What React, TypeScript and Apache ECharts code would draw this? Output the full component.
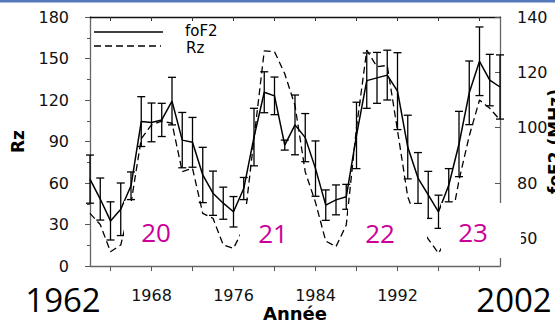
import React, { useEffect, useRef } from "react";
import * as echarts from "echarts";

// Years (annual means)
const years = [
  1962, 1963, 1964, 1965, 1966, 1967, 1968, 1969, 1970, 1971,
  1972, 1973, 1974, 1975, 1976, 1977, 1978, 1979, 1980, 1981,
  1982, 1983, 1984, 1985, 1986, 1987, 1988, 1989, 1990, 1991,
  1992, 1993, 1994, 1995, 1996, 1997, 1998, 1999, 2000, 2001, 2002,
];

// Sunspot number Rz (left axis, dashed)
const rz = [
  38, 30, 10.3, 15.2, 45.3, 92, 102, 104.8, 103.2, 68.2,
  70.6, 38.1, 34.5, 15.2, 12.8, 27.5, 92, 155.5, 155, 139,
  116, 68, 46, 18, 14, 29.6, 100, 156, 144, 145,
  98, 50, 30, 19.5, 9.2, 22, 62, 94, 120, 114, 105.6,
];

// foF2 (right axis, solid) and its error half-width
const foF2 = [
  81.4, 74.2, 66.3, 70.5, 79.0, 102.2, 101.9, 102.8, 109.6, 95.5,
  94.7, 82.9, 76.3, 72.7, 69.6, 78.0, 96.6, 112.8, 111.5, 93.7,
  101.0, 96.4, 85.2, 72.0, 73.9, 75.0, 97.2, 117.0, 118.0, 119.0,
  113.2, 93.0, 81.8, 75.7, 69.6, 79.2, 94.1, 112.6, 124.0, 117.2, 114.7,
];
const foF2Err = [
  8.7, 7.6, 6.9, 9.5, 5.0, 9.0, 7.0, 6.0, 8.6, 10.0,
  9.0, 10.0, 8.0, 5.8, 5.5, 4.0, 10.4, 7.4, 6.8, 1.8,
  10.8, 8.7, 10.0, 5.5, 5.4, 4.5, 12.0, 10.0, 9.2, 9.0,
  13.9, 11.5, 9.2, 8.5, 6.0, 6.0, 11.8, 11.5, 12.4, 9.3, 11.6,
];

// Axis ticks / labels
const xTickValues = [1964, 1968, 1972, 1976, 1980, 1984, 1988, 1992, 1996, 2000];
const xLabelValues = [1968, 1976, 1984, 1992];
const rightTickValues = [60, 80, 100, 120, 140];

// Overlay texts
const cycleLabels = ["20", "21", "22", "23"];
const startYearLabel = "1962";
const endYearLabel = "2002";

const axisFont = "DejaVu Sans";
const overlayFont = "Open Sans";
const magenta = "#cc0099";

export default function App() {
  const ref = useRef<HTMLDivElement>(null);

  useEffect(() => {
    const chart = echarts.init(ref.current as HTMLDivElement, null, { renderer: "svg" });

    const renderErr = (params: any, api: any) => {
      const x = api.value(0);
      const lo = api.value(1);
      const hi = api.value(2);
      const p1 = api.coord([x, lo]);
      const p2 = api.coord([x, hi]);
      const w = 4;
      const style = { stroke: "#000", lineWidth: 1.3 };
      return {
        type: "group",
        children: [
          { type: "line", shape: { x1: p1[0], y1: p1[1], x2: p2[0], y2: p2[1] }, style },
          { type: "line", shape: { x1: p1[0] - w, y1: p1[1], x2: p1[0] + w, y2: p1[1] }, style },
          { type: "line", shape: { x1: p2[0] - w, y1: p2[1], x2: p2[0] + w, y2: p2[1] }, style },
        ],
      };
    };

    const cyclePos = [
      [156, 232],
      [273, 233],
      [380, 233],
      [473, 232],
    ];
    const boxes = [
      [124, 201, 71, 61],
      [240, 204, 60, 58],
      [348, 204, 79, 58],
      [441, 203, 80, 55],
    ];

    const graphic: any[] = [
      { type: "rect", shape: { x: 0, y: 0, width: 555, height: 2.5 }, style: { fill: "#5577bb" }, z: 100 },
      { type: "line", shape: { x1: 94, y1: 32, x2: 163, y2: 32 }, style: { stroke: "#000", lineWidth: 1.5 }, z: 100 },
      { type: "line", shape: { x1: 94, y1: 46, x2: 161, y2: 46 }, style: { stroke: "#000", lineWidth: 1.3, lineDash: [7, 4] }, z: 100 },
      {
        type: "text", x: 185, y: 31, z: 100,
        style: { text: "foF2", fontSize: 15, lineHeight: 12, fontFamily: axisFont, fill: "#000", align: "left", verticalAlign: "middle" },
      },
      {
        type: "text", x: 186, y: 47.5, z: 100,
        style: { text: "Rz", fontSize: 15, lineHeight: 12, fontFamily: axisFont, fill: "#000", align: "left", verticalAlign: "middle" },
      },
    ];
    boxes.forEach((b) => {
      graphic.push({ type: "rect", shape: { x: b[0], y: b[1], width: b[2], height: b[3] }, style: { fill: "#fff" }, z: 90 });
    });
    cycleLabels.forEach((t, i) => {
      graphic.push({
        type: "text", x: cyclePos[i][0], y: cyclePos[i][1], z: 101,
        style: { text: t, fontSize: 26, fontFamily: overlayFont, fill: magenta, align: "center", verticalAlign: "middle" },
      });
    });
    graphic.push({
      type: "text", x: 63, y: 299, z: 101,
      style: { text: startYearLabel, fontSize: 33, fontFamily: overlayFont, fill: "#000", align: "center", verticalAlign: "middle" },
    });
    graphic.push({
      type: "text", x: 514, y: 299, z: 101,
      style: { text: endYearLabel, fontSize: 33, fontFamily: overlayFont, fill: "#000", align: "center", verticalAlign: "middle" },
    });

    const plain = (v: number) => String(v);

    const option: any = {
      animation: false,
      backgroundColor: "#fff",
      grid: { left: 90, right: 55, top: 17, bottom: 57, containLabel: false, outerBoundsMode: "none" },
      xAxis: [
        {
          type: "value", min: 1962, max: 2002, position: "bottom",
          axisLine: { show: true, lineStyle: { color: "#666", width: 1.3 } },
          axisTick: { show: true, inside: false, length: 5, customValues: xTickValues, lineStyle: { color: "#555" } },
          axisLabel: { customValues: xLabelValues, formatter: plain, margin: 21, fontSize: 16, fontFamily: axisFont, color: "#111" },
          splitLine: { show: false },
          name: "Année", nameLocation: "middle", nameGap: 38, nameMoveOverlap: false,
          nameTextStyle: { fontWeight: "bold", fontSize: 18, fontFamily: axisFont, color: "#000" },
        },
        {
          type: "value", min: 1962, max: 2002, position: "top",
          axisLine: { show: true, lineStyle: { color: "#111", width: 1.3 } },
          axisTick: { show: true, inside: true, length: 4, customValues: xTickValues, lineStyle: { color: "#333" } },
          axisLabel: { show: false },
          splitLine: { show: false },
        },
      ],
      yAxis: [
        {
          type: "value", min: 0, max: 180, interval: 30, position: "left",
          axisLine: { show: true, lineStyle: { color: "#666", width: 1.3 } },
          axisTick: { show: true, length: 5, lineStyle: { color: "#555" } },
          minorTick: { show: true, splitNumber: 2, length: 3, lineStyle: { color: "#555" } },
          axisLabel: { margin: 21, fontSize: 16, fontFamily: axisFont, color: "#111" },
          splitLine: { show: false },
          minorSplitLine: { show: false },
          name: "Rz", nameLocation: "middle", nameGap: 64, nameMoveOverlap: false,
          nameTextStyle: { fontWeight: "bold", fontSize: 17, fontFamily: axisFont, color: "#000" },
        },
        {
          type: "value", min: 50, max: 140, position: "right",
          axisLine: { show: true, lineStyle: { color: "#666", width: 1.3 } },
          axisTick: { show: true, inside: true, length: 5, customValues: rightTickValues, lineStyle: { color: "#555" } },
          axisLabel: { customValues: rightTickValues, margin: 17, fontSize: 16, fontFamily: axisFont, color: "#111" },
          splitLine: { show: false },
          name: "foF2 (MHz)", nameLocation: "middle", nameGap: 46, nameMoveOverlap: false,
          nameTextStyle: { fontWeight: "bold", fontSize: 17, fontFamily: axisFont, color: "#000" },
        },
      ],
      series: [
        {
          type: "line", name: "Rz", xAxisIndex: 0, yAxisIndex: 0,
          data: years.map((y, i) => [y, rz[i]]),
          symbol: "none",
          lineStyle: { color: "#000", width: 1.3, type: [7, 4] },
          z: 3,
        },
        {
          type: "line", name: "foF2", xAxisIndex: 0, yAxisIndex: 1,
          data: years.map((y, i) => [y, foF2[i]]),
          symbol: "none",
          lineStyle: { color: "#000", width: 1.5 },
          z: 4,
        },
        {
          type: "custom", name: "foF2 error", xAxisIndex: 0, yAxisIndex: 1,
          data: years.map((y, i) => [y, foF2[i] - foF2Err[i], foF2[i] + foF2Err[i]]),
          encode: { x: 0, y: [1, 2] },
          renderItem: renderErr,
          z: 4,
        },
      ],
      graphic,
    };

    chart.setOption(option);
    return () => chart.dispose();
  }, []);

  return (
    <div
      ref={ref}
      style={{ position: "fixed", left: 0, top: 0, width: 555, height: 323, background: "#fff" }}
    />
  );
}
